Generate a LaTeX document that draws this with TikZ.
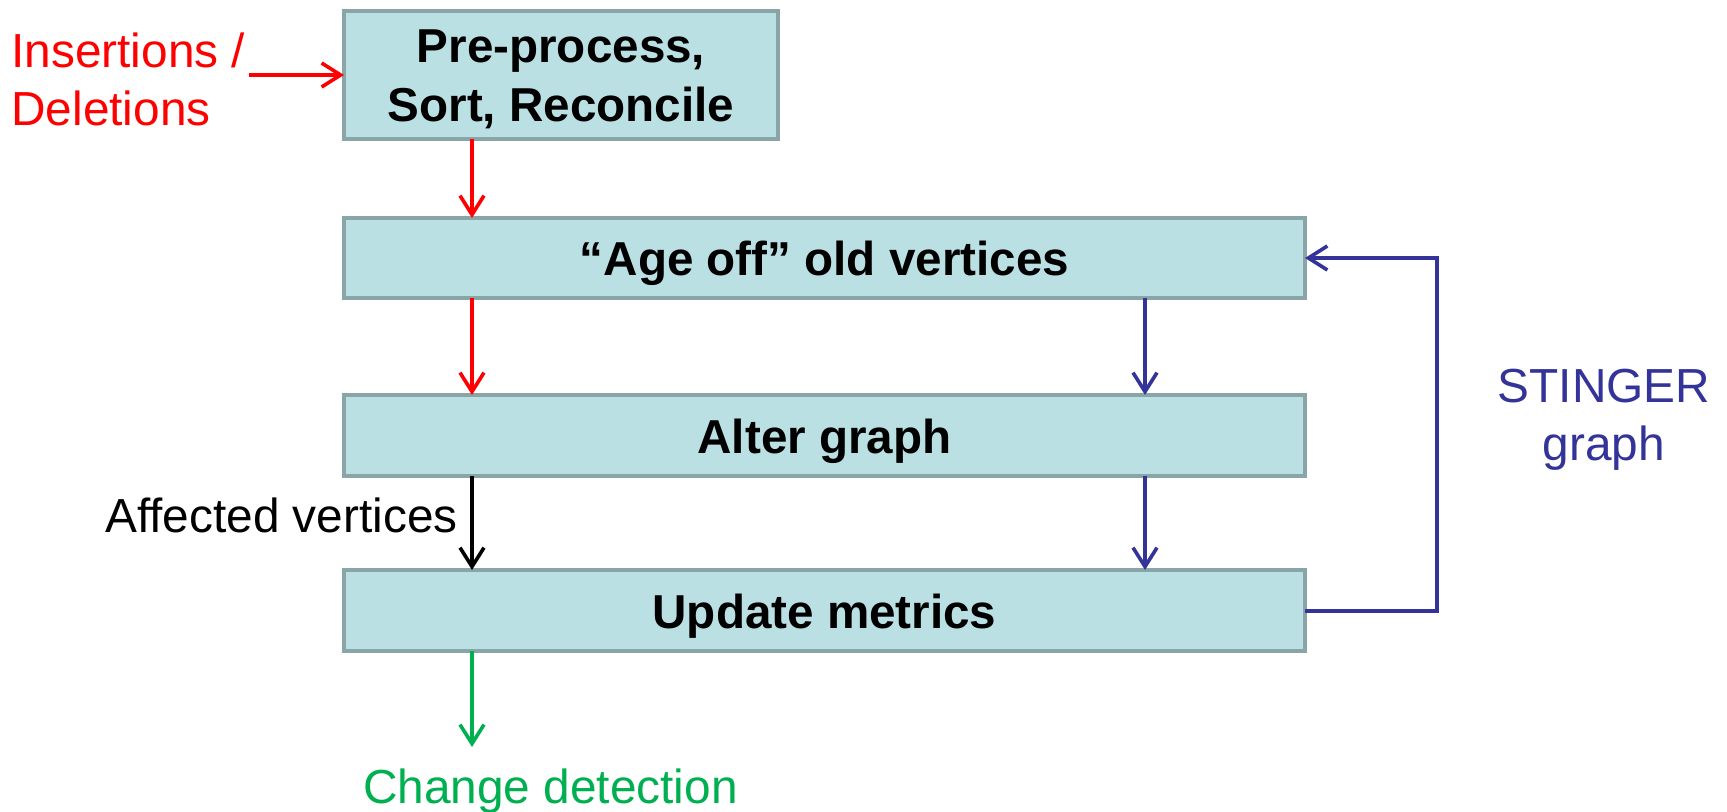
\documentclass[tikz,border=0pt]{standalone}
\usepackage{fontspec}
\setmainfont{Liberation Sans}
\usetikzlibrary{arrows.meta}

\definecolor{boxfill}{HTML}{BBE0E3}
\definecolor{boxline}{HTML}{8AA5A8}
\definecolor{flowred}{HTML}{FF0000}
\definecolor{flowblue}{HTML}{333399}
\definecolor{flowgreen}{HTML}{00B050}

\tikzset{
  stagebox/.style={draw=boxline, fill=boxfill, line width=2pt, inner sep=0pt,
    outer sep=0pt, align=center, font=\fontsize{23.8}{29.5}\selectfont\bfseries},
  oneline/.style={text height=17.5pt, text depth=0pt},
  flow/.style={line width=1.8pt, -{Straight Barb[length=9.5pt, width=12pt, line width=1.8pt]}},
  label/.style={inner sep=0pt, font=\fontsize{23.9}{29}\selectfont},
}

\begin{document}
\begin{tikzpicture}[x=0.5pt, y=-0.5pt]
  \path[use as bounding box] (0,0) rectangle (1727,812);

  % processing stages
  \node[stagebox, minimum width=217pt, minimum height=64pt,
        text height=47pt, text depth=0pt] (pre) at (561,75)
    {Pre-process,\\Sort, Reconcile};
  \node[stagebox, oneline, minimum width=480.5pt, minimum height=40pt] (age) at (824.5,258)
    {“Age off” old vertices};
  \node[stagebox, oneline, minimum width=480.5pt, minimum height=40.5pt] (alter) at (824.5,435.5)
    {Alter graph};
  \node[stagebox, oneline, minimum width=480.5pt, minimum height=40.5pt] (update) at (824.5,610.5)
    {Update metrics};

  % side labels
  \node[label, text=flowred, align=left, anchor=north west] (ins) at (11,32)
    {Insertions /\\Deletions};
  \node[label, anchor=base east] (aff) at (458,532) {Affected vertices};
  \node[label, text=flowblue, align=center] (stinger) at (1604,420)
    {STINGER\\graph};
  \node[label, text=flowgreen, anchor=base] (change) at (550.5,803) {Change detection};

  % helper coordinates for the connector columns
  \coordinate (lcol) at (472,0);
  \coordinate (rcol) at (1145,0);
  \coordinate (insStart) at (249,75);
  \coordinate (outEnd) at (472,747);
  \coordinate (loopTop) at (1437,258);

  % main (left) column
  \draw[flow, flowred] (insStart) -- (pre.west |- insStart);
  \draw[flow, flowred] (pre.south -| lcol) -- (age.north -| lcol);
  \draw[flow, flowred] (age.south -| lcol) -- (alter.north -| lcol);
  \draw[flow, black] (alter.south -| lcol) -- (update.north -| lcol);
  \draw[flow, flowgreen] (update.south -| lcol) -- (outEnd);

  % graph data (right) column and feedback loop
  \draw[flow, flowblue] (age.south -| rcol) -- (alter.north -| rcol);
  \draw[flow, flowblue] (alter.south -| rcol) -- (update.north -| rcol);
  \draw[flow, flowblue, line width=2pt] (update.east) -| (loopTop) -- (age.east);
\end{tikzpicture}
\end{document}
